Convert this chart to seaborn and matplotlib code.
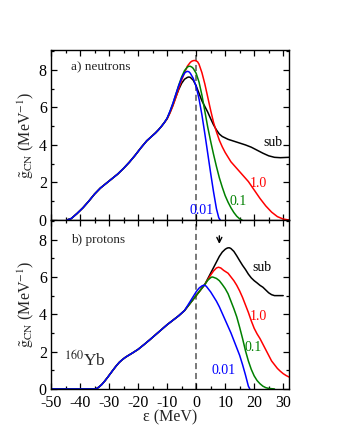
import numpy as np
import pandas as pd
import matplotlib
matplotlib.use("Agg")
import matplotlib.pyplot as plt
import seaborn as sns
from matplotlib.ticker import MultipleLocator

# ---------------- data ----------------
# panel a) neutrons: shared low-energy part
n_shared_x = [-44.5, -43, -41, -39, -37, -35, -33, -31, -29, -27, -25, -23, -21, -19, -17, -15, -14, -13, -12, -11]
n_shared_y = [0.0, 0.08, 0.35, 0.65, 1.0, 1.38, 1.7, 1.95, 2.2, 2.45, 2.75, 3.08, 3.45, 3.85, 4.22, 4.5, 4.64,
              4.8, 4.98, 5.18]

n_blue_x = [-10, -9, -8, -7, -6, -5, -4, -3.5, -3, -2.5, -2, -1, 0, 1, 2, 3, 4, 5, 6, 7, 7.8, 8.3]
n_blue_y = [5.42, 5.8, 6.22, 6.7, 7.15, 7.55, 7.82, 7.89, 7.92, 7.9, 7.82, 7.55, 7.12, 6.45, 5.6, 4.6, 3.55, 2.5,
            1.5, 0.6, 0.12, 0.0]

n_green_x = [-10, -9, -8, -7, -6, -5, -4, -3, -2.5, -2, -1.5, -1, 0, 1, 2, 3, 4, 5, 6, 7, 8, 9, 10, 11, 12, 13,
             14, 15, 15.8]
n_green_y = [5.42, 5.78, 6.2, 6.68, 7.18, 7.62, 7.96, 8.15, 8.19, 8.19, 8.15, 8.08, 7.82, 7.35, 6.65, 5.8, 4.95,
             4.2, 3.5, 2.85, 2.25, 1.75, 1.3, 0.95, 0.65, 0.4, 0.2, 0.06, 0.0]

n_red_x = [-10, -9, -8, -7, -6, -5, -4, -3, -2, -1.5, -1, -0.5, 0, 0.5, 1, 2, 3, 4, 5, 6, 7, 8, 9, 10, 12, 14,
           16, 18, 20, 22, 24, 26, 28, 30, 32]
n_red_y = [5.38, 5.7, 6.08, 6.52, 7.0, 7.45, 7.85, 8.2, 8.4, 8.46, 8.49, 8.5, 8.48, 8.43, 8.3, 7.85, 7.25, 6.55,
           5.85, 5.2, 4.7, 4.25, 3.9, 3.6, 3.1, 2.75, 2.4, 2.05, 1.6, 1.15, 0.75, 0.42, 0.18, 0.05, 0.0]

n_sub_x = [-10, -9, -8, -7, -6, -5, -4, -3, -2.5, -2, -1, 0, 1, 2, 3, 4, 5, 6, 7, 8, 9, 11, 13, 15, 17, 19, 21,
           23, 25, 27, 29, 32]
n_sub_y = [5.4, 5.74, 6.12, 6.55, 6.95, 7.28, 7.5, 7.6, 7.62, 7.6, 7.45, 7.15, 6.75, 6.35, 6.05, 5.75, 5.4,
           5.07, 4.8, 4.58, 4.45, 4.3, 4.2, 4.1, 4.0, 3.88, 3.72, 3.56, 3.42, 3.34, 3.32, 3.34]

# panel b) protons: shared low-energy part
p_shared_x = [-50, -34.5, -33.5, -32.5, -31.5, -30.5, -29.5, -28.5, -27.5, -26.5, -25.5, -24.5, -23.5, -22, -20,
              -18, -16, -14, -12, -10, -8, -6, -4]
p_shared_y = [0.0, 0.0, 0.1, 0.24, 0.42, 0.62, 0.83, 1.04, 1.24, 1.42, 1.56, 1.68, 1.78, 1.92, 2.12, 2.37, 2.63,
              2.9, 3.17, 3.44, 3.68, 3.92, 4.2]

p_blue_x = [-3, -2, -1, 0, 1, 2, 2.5, 3, 3.5, 4, 5, 6, 7, 8, 9, 10, 11, 12, 13, 14, 15, 16, 17, 18, 18.5]
p_blue_y = [4.45, 4.7, 4.95, 5.2, 5.4, 5.52, 5.55, 5.55, 5.5, 5.4, 5.2, 4.95, 4.7, 4.4, 4.05, 3.7, 3.35, 3.0,
            2.6, 2.2, 1.8, 1.3, 0.75, 0.15, 0.0]

p_common_x = [-3, -2, -1, 0, 1, 2, 3]
p_common_y = [4.4, 4.6, 4.8, 5.0, 5.2, 5.4, 5.6]

p_green_x = [4, 5, 5.5, 6, 7, 8, 9, 10, 11, 12, 13, 14, 15, 16, 17, 18, 19, 20, 21, 22, 23, 24, 25, 27]
p_green_y = [5.82, 5.96, 6.0, 5.98, 5.92, 5.8, 5.6, 5.38, 5.1, 4.7, 4.3, 3.86, 3.3, 2.7, 2.05, 1.5, 1.05, 0.7,
             0.45, 0.28, 0.15, 0.07, 0.03, 0.0]

p_red_x = [4, 5, 6, 7, 7.7, 8.5, 9.5, 11, 12, 13, 14, 15, 16, 17, 18, 19, 20, 21, 22, 23, 24, 25, 26, 27, 28,
           29, 30, 31, 32]
p_red_y = [5.85, 6.1, 6.32, 6.48, 6.52, 6.48, 6.35, 6.2, 6.0, 5.8, 5.55, 5.25, 4.9, 4.5, 4.1, 3.65, 3.25, 2.95,
           2.7, 2.4, 2.1, 1.8, 1.5, 1.3, 1.1, 0.95, 0.82, 0.72, 0.64]

p_sub_x = [4, 5, 6, 7, 8, 9, 10, 10.5, 11, 11.5, 12, 13, 14, 15, 16, 17, 18, 19, 20, 21, 22, 23, 24, 25, 26, 27,
           30]
p_sub_y = [5.9, 6.2, 6.5, 6.8, 7.1, 7.33, 7.48, 7.53, 7.56, 7.56, 7.52, 7.37, 7.13, 6.87, 6.62, 6.4, 6.15, 5.95,
           5.8, 5.68, 5.55, 5.45, 5.3, 5.15, 5.05, 5.0, 5.0]

curve_colors = {"sub": "black", "1.0": "red", "0.1": "#008000", "0.01": "blue"}
x_ticks = [-50, -40, -30, -20, -10, 0, 10, 20, 30]
y_ticks = [0, 2, 4, 6, 8]

# ---------------- style ----------------
sns.set_style("ticks")
plt.rcParams["font.family"] = ["Liberation Serif", "DejaVu Serif"]
plt.rcParams["mathtext.fontset"] = "stix"
plt.rcParams["axes.linewidth"] = 1.0
plt.rcParams["axes.unicode_minus"] = False

fig = plt.figure(figsize=(3.4, 4.4), dpi=100)
ax1 = fig.add_axes([0.150, 0.500, 0.700, 0.386])
ax2 = fig.add_axes([0.150, 0.116, 0.700, 0.384])


def curve(ax, xs, ys, color):
    df = pd.DataFrame({"x": xs, "y": ys})
    sns.lineplot(data=df, x="x", y="y", color=color, lw=1.1, ax=ax, sort=False,
                 estimator=None)


# panel a
curve(ax1, n_shared_x + n_sub_x, n_shared_y + n_sub_y, curve_colors["sub"])
curve(ax1, n_shared_x + n_red_x, n_shared_y + n_red_y, curve_colors["1.0"])
curve(ax1, n_shared_x + n_green_x, n_shared_y + n_green_y, curve_colors["0.1"])
curve(ax1, n_shared_x + n_blue_x, n_shared_y + n_blue_y, curve_colors["0.01"])

# panel b
curve(ax2, p_shared_x + p_common_x + p_sub_x, p_shared_y + p_common_y + p_sub_y, curve_colors["sub"])
curve(ax2, p_shared_x + p_common_x + p_red_x, p_shared_y + p_common_y + p_red_y, curve_colors["1.0"])
curve(ax2, p_shared_x + p_common_x + p_green_x, p_shared_y + p_common_y + p_green_y, curve_colors["0.1"])
curve(ax2, p_shared_x + p_blue_x, p_shared_y + p_blue_y, curve_colors["0.01"])

ylab = r"$\tilde{\mathrm{g}}_{\mathrm{CN}}$ (MeV$^{-1}$)"
for ax in (ax1, ax2):
    ax.axvline(0, color="#555555", ls=(0, (4, 2.5)), lw=1.1, zorder=0)
    ax.set_xlim(-50, 32)
    ax.set_ylim(0, 9.05)
    ax.set_xticks(x_ticks)
    ax.set_yticks(y_ticks)
    ax.xaxis.set_minor_locator(MultipleLocator(5))
    ax.yaxis.set_minor_locator(MultipleLocator(1))
    ax.tick_params(which="both", direction="in", top=True, right=True, labelsize=11.5,
                   width=0.9, colors="black")
    ax.tick_params(which="major", length=4.5)
    ax.tick_params(axis="y", which="major", pad=3)
    ax.tick_params(axis="x", which="major", pad=4.5)
    ax.tick_params(which="minor", length=2.5)
    ax.set_ylabel(ylab, fontsize=11.5, labelpad=2)
    for s in ax.spines.values():
        s.set_visible(True)
        s.set_color("black")

ax1.set_xlabel("")
ax1.tick_params(labelbottom=False)
ax2.set_xlabel("\u03b5 (MeV)", fontsize=11.5, labelpad=-1)

# annotations
ax1.text(-33, 8.15, "a) neutrons", fontsize=9.5, ha="center", va="center")
ax1.text(26.3, 4.15, "sub", fontsize=10, color="black", ha="center", va="center")
ax1.text(21.4, 1.97, "1.0", fontsize=10, color="red", ha="center", va="center")
ax1.text(14.4, 1.0, "0.1", fontsize=10, color="#008000", ha="center", va="center")
ax1.text(2.0, 0.53, "0.01", fontsize=10, color="blue", ha="center", va="center")

ax2.text(-33.8, 7.98, "b) protons", fontsize=9.5, ha="center", va="center")
ax2.text(22.6, 6.49, "sub", fontsize=10, color="black", ha="center", va="center")
ax2.text(21.5, 3.86, "1.0", fontsize=10, color="red", ha="center", va="center")
ax2.text(19.8, 2.22, "0.1", fontsize=10, color="#008000", ha="center", va="center")
ax2.text(9.4, 1.01, "0.01", fontsize=10, color="blue", ha="center", va="center")
ax2.text(-38.3, 1.55, r"$^{160}$Yb", fontsize=12.5, ha="center", va="center")
ax2.annotate("", xy=(8.0, 7.62), xytext=(8.0, 8.35),
             arrowprops=dict(arrowstyle="->", color="black", lw=1.0, mutation_scale=9))

fig.savefig("out.png", dpi=100)
